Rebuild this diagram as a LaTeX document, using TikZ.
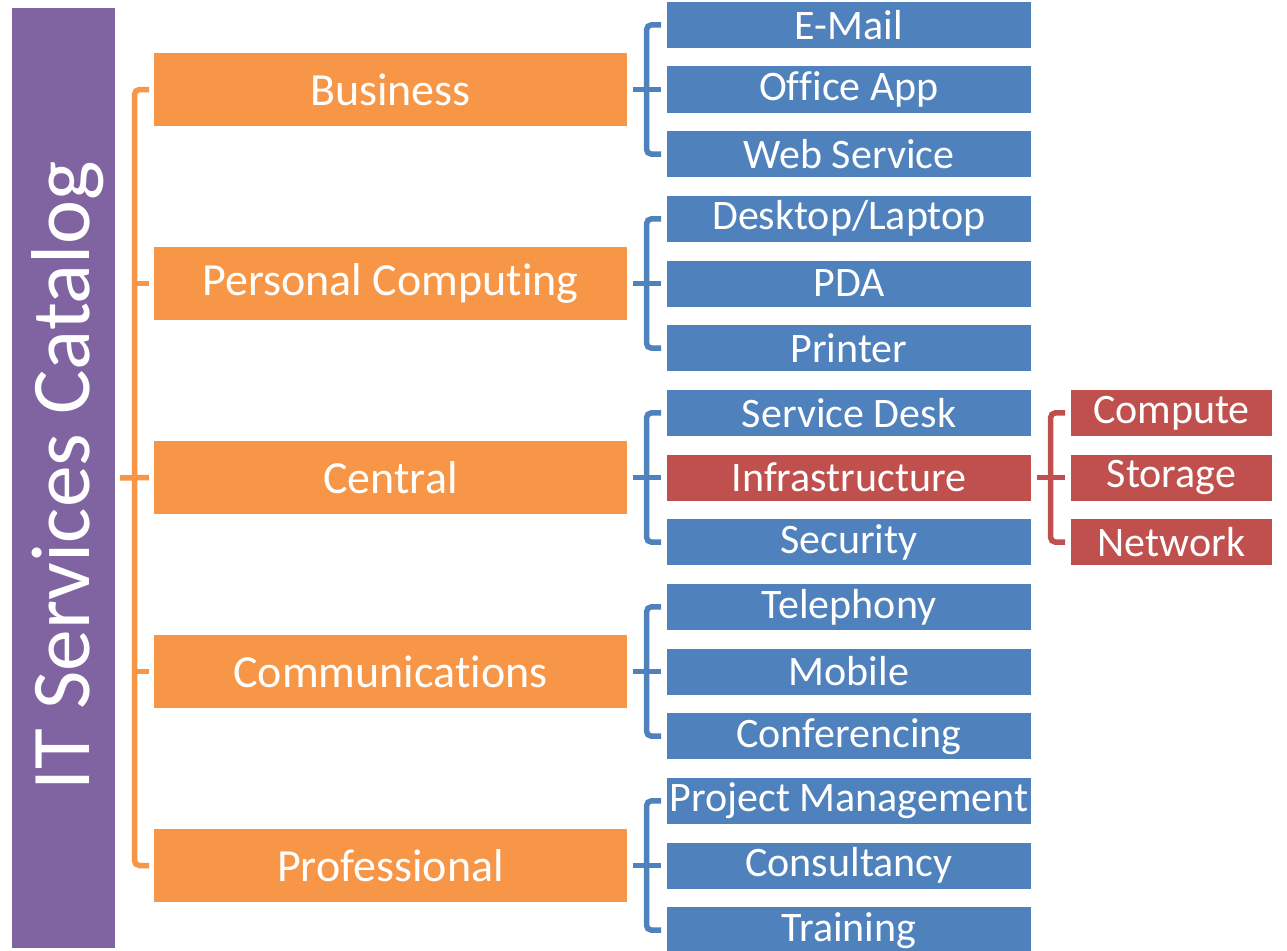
\documentclass[tikz,border=0pt]{standalone}
\usepackage{fontspec}
\setmainfont[RawFeature={-liga;-clig;-calt;-rlig;-dlig}]{Carlito}
\definecolor{cpurple}{HTML}{8064A2}
\definecolor{corange}{HTML}{F79646}
\definecolor{cblue}{HTML}{4F81BD}
\definecolor{cred}{HTML}{C0504D}
\begin{document}
\begin{tikzpicture}[x=1pt,y=-1pt,
  base/.style={inner sep=0pt, outer sep=0pt, text=white, anchor=center},
  catbox/.style={base, fill=corange, minimum width=473pt, minimum height=73pt, font=\fontsize{46}{46}\selectfont},
  itembox/.style={base, fill=cblue, minimum width=364pt, minimum height=46pt, font=\fontsize{42}{42}\selectfont},
  redbox/.style={base, fill=cred, minimum width=364pt, minimum height=46pt, font=\fontsize{42}{42}\selectfont},
  subbox/.style={base, fill=cred, minimum width=201pt, minimum height=46pt, font=\fontsize{42}{42}\selectfont},
  titlebox/.style={base, fill=cpurple, minimum width=103pt, minimum height=940pt},
  brk/.style={line width=5.5pt, rounded corners=5pt},
  obrk/.style={brk, draw=corange},
  bbrk/.style={brk, draw=cblue},
  rbrk/.style={brk, draw=cred}]
\useasboundingbox (0,0) rectangle (1287,950);
\fill[white] (0,0) rectangle (1287,950);

\node[titlebox] (title) at (63.5,478) {};
\node[base, rotate=90, font=\fontsize{83.5}{83.5}\selectfont] (titletext) at (68,476) {IT Services Catalog};

\node[catbox] (k1) at (390.5,89.5) {Business};
\node[catbox] (k2) at (390.5,283.5) {Personal Comput\kern0pt ing};
\node[catbox] (k3) at (390.5,477.5) {Central};
\node[catbox] (k4) at (390.5,671.5) {Communicat\kern0pt ions};
\node[catbox] (k5) at (390.5,865.5) {Professional};

\node[itembox] (a1) at (849,24.8) {E-Mail};
\node[itembox] (a2) at (849,89.5) {Of\kern0pt f\kern0pt ice App};
\node[itembox] (a3) at (849,154.2) {Web Service};
\node[itembox] (b1) at (849,218.8) {Desktop/Laptop};
\node[itembox] (b2) at (849,283.5) {PDA};
\node[itembox] (b3) at (849,348.2) {Printer};
\node[itembox] (c1) at (849,412.8) {Service Desk};
\node[redbox]  (c2) at (849,477.5) {Infrastructure};
\node[itembox] (c3) at (849,542.2) {Security};
\node[itembox] (d1) at (849,606.8) {Telephony};
\node[itembox] (d2) at (849,671.5) {Mobile};
\node[itembox] (d3) at (849,736.2) {Conferencing};
\node[itembox] (e1) at (849,800.8) {Project Management};
\node[itembox] (e2) at (849,865.5) {Consultancy};
\node[itembox] (e3) at (849,930.2) {Training};

\node[subbox] (s1) at (1171.5,412.8) {Compute};
\node[subbox] (s2) at (1171.5,477.5) {Storage};
\node[subbox] (s3) at (1171.5,542.2) {Network};

% orange bracket
\draw[obrk] ([xshift=-5pt]k1.west) -- ++(-14.5,0) |- ([xshift=-5pt]k5.west);
\draw[obrk] ([xshift=-5pt]k2.west) -- ++(-14.5,0);
\draw[obrk] ([xshift=-5pt]k4.west) -- ++(-14.5,0);
\draw[obrk] ([xshift=5pt]title.east) -- ([xshift=-5pt]k3.west);

% blue brackets
\foreach \k/\g in {k1/a,k2/b,k3/c,k4/d,k5/e}{
  \draw[bbrk] ([xshift=-6pt]\g1.west) -- ++(-14.5,0) |- ([xshift=-6pt]\g3.west);
  \draw[bbrk] ([xshift=6pt]\k.east) -- ([xshift=-6pt]\g2.west);
}

% red bracket
\draw[rbrk] ([xshift=-6pt]s1.west) -- ++(-14.5,0) |- ([xshift=-6pt]s3.west);
\draw[rbrk] ([xshift=6pt]c2.east) -- ([xshift=-6pt]s2.west);
\end{tikzpicture}
\end{document}
